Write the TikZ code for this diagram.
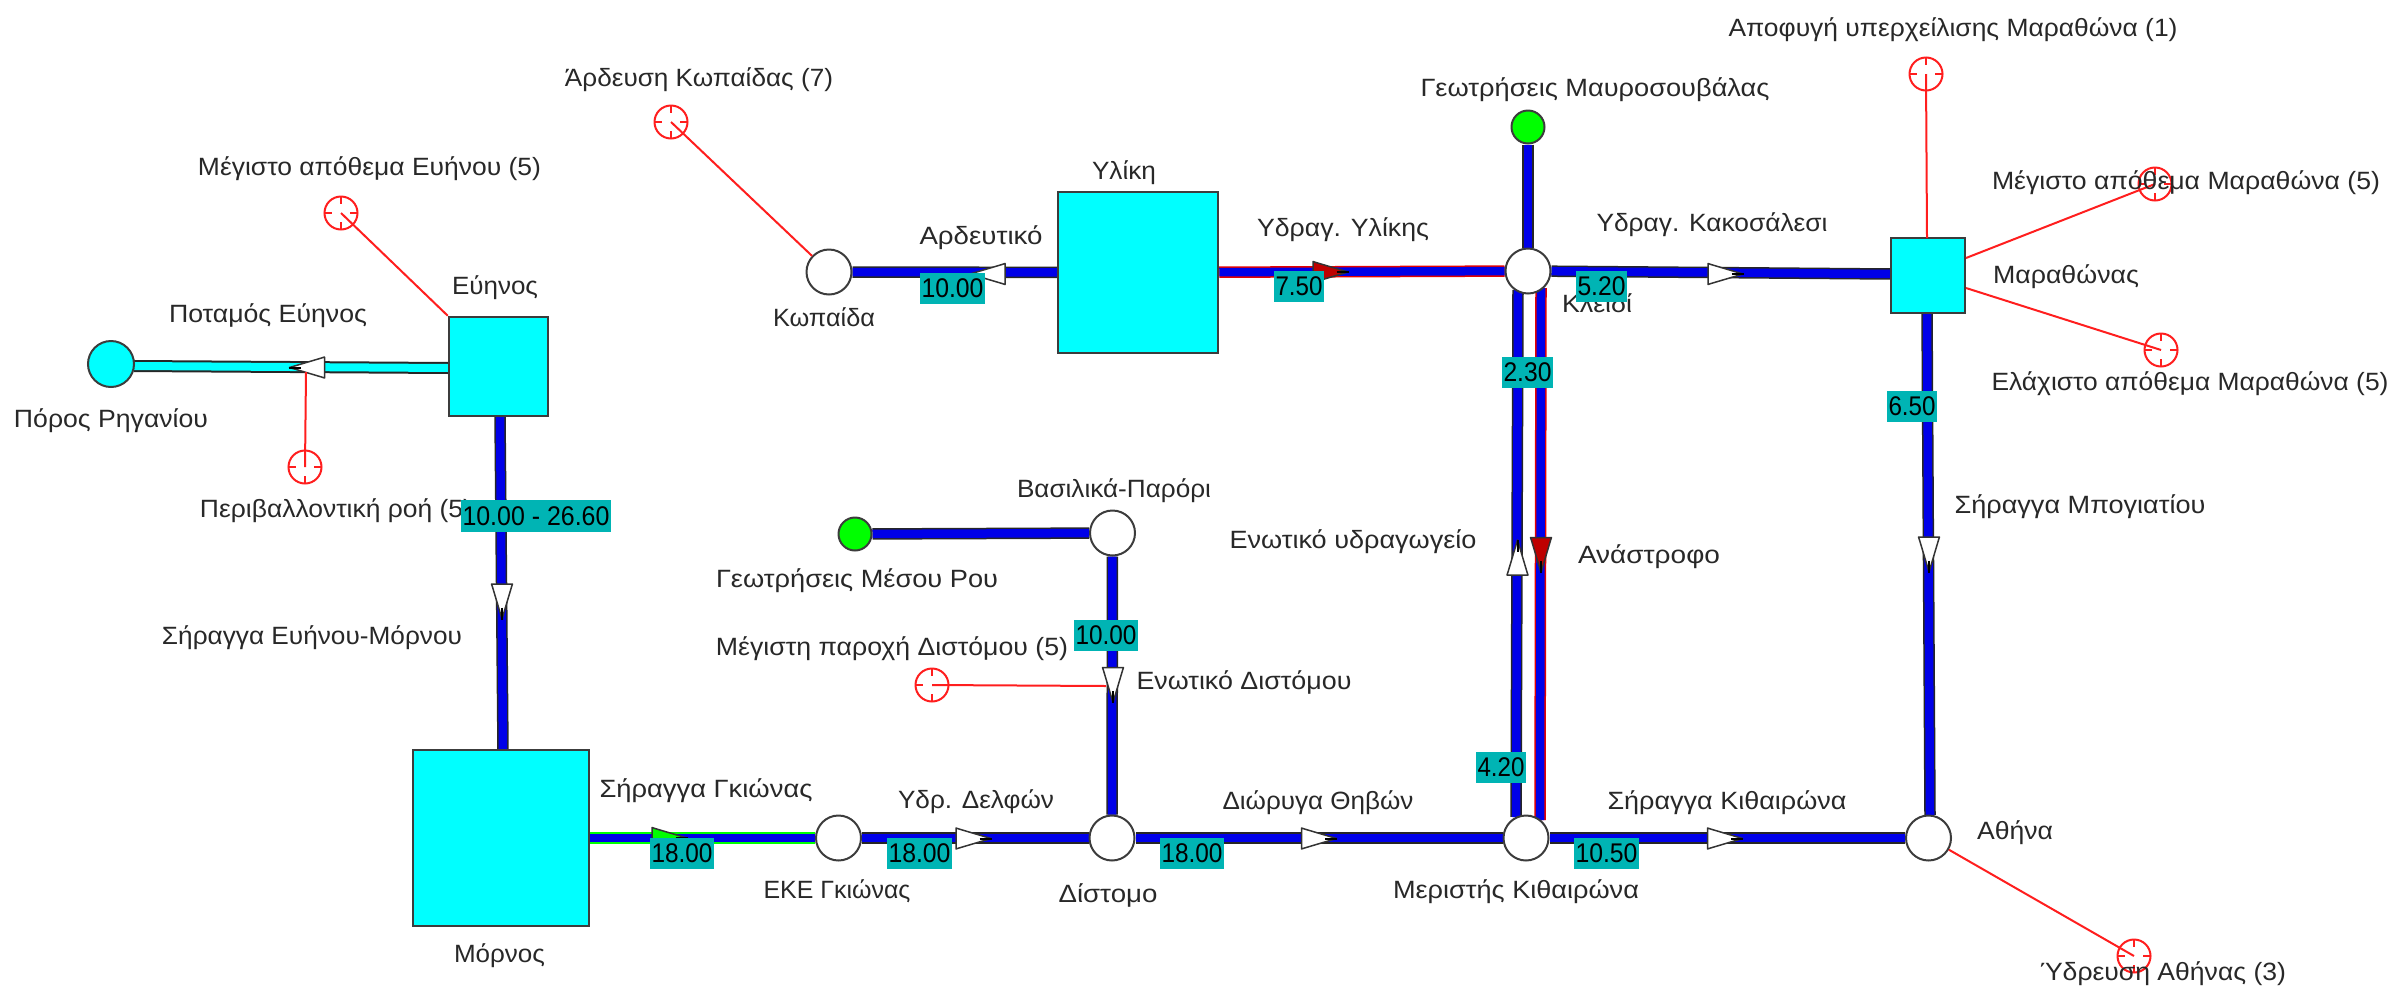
\documentclass[tikz,border=0pt]{standalone}
\usepackage{graphicx}
\usepackage{fontspec}
\setmainfont{Liberation Sans}
\usetikzlibrary{calc}
\definecolor{pipeblue}{RGB}{0,0,232}
\definecolor{boxcyan}{RGB}{0,255,255}
\definecolor{valteal}{RGB}{0,180,180}
\definecolor{inkgray}{RGB}{40,40,40}
\definecolor{nodeline}{RGB}{60,60,60}
\definecolor{limegreen}{RGB}{0,255,0}
\definecolor{gaugered}{RGB}{255,30,30}
\definecolor{arrowred}{RGB}{190,0,0}
\pgfdeclarelayer{bg}
\pgfsetlayers{bg,main}
\tikzset{
  pipe/.style={draw=black!85,double=pipeblue,line width=1.5pt,double distance=8.5pt},
  pipered/.style={pipe,draw=red!90!black},
  pipegreen/.style={pipe,draw=limegreen},
  pipecyan/.style={draw=black!85,double=boxcyan,line width=2pt,double distance=8pt},
  junction/.style={circle,draw=nodeline,fill=white,line width=2pt,minimum size=45pt,inner sep=0pt},
  source/.style={circle,draw=nodeline,fill=limegreen,line width=2pt,minimum size=33pt,inner sep=0pt},
  riversrc/.style={circle,draw=nodeline,fill=boxcyan,line width=2pt,minimum size=46pt,inner sep=0pt},
  reservoir/.style={rectangle,draw=nodeline,fill=boxcyan,line width=2.5pt,inner sep=0pt},
  gauge/.style={circle,draw=gaugered,fill=white,line width=2pt,minimum size=33pt,inner sep=0pt,
    path picture={
      \draw[gaugered,line width=2pt,shorten >=9pt] (path picture bounding box.north) -- (path picture bounding box.center);
      \draw[gaugered,line width=2pt,shorten >=9pt] (path picture bounding box.south) -- (path picture bounding box.center);
      \draw[gaugered,line width=2pt,shorten >=9pt] (path picture bounding box.east) -- (path picture bounding box.center);
      \draw[gaugered,line width=2pt,shorten >=9pt] (path picture bounding box.west) -- (path picture bounding box.center);
    }},
  redlink/.style={draw=gaugered,line width=2pt},
  txt/.style={anchor=base,inner sep=0pt,text=inkgray,font=\fontsize{25}{30}\selectfont},
  val/.style={fill=valteal,inner sep=0pt,text=black,minimum height=31pt,font=\fontsize{27}{30}\selectfont},
  pics/flow/.style={code={
    \draw[fill=#1,draw=black!80,line width=1.5pt,line join=round] (-17.5,-10.5) -- (-14.5,-9.5) -- (17.5,0) -- (-14.5,9.5) -- (-17.5,10.5) -- cycle;
    \draw[black,line width=2pt] (6,0) -- (18,0);
  }}
}
\newcommand{\lbl}[5]{\node[txt] (#1) at (#2,#3) {\resizebox{#4pt}{\height}{#5}};}
\newcommand{\valbox}[6]{\node[val,minimum width=#4pt,minimum height=#5pt] (#1) at (#2,#3) {\resizebox{\dimexpr#4pt-3pt\relax}{\height}{#6}};}
\begin{document}
\begin{tikzpicture}[x=1pt,y=-1pt]
\useasboundingbox (0,0) rectangle (2394,986);
% reservoirs
\node[reservoir,minimum width=99pt,minimum height=99pt] (euinos) at (498.5,366.5) {};
\node[reservoir,minimum width=176pt,minimum height=176pt] (mornos) at (501,838) {};
\node[reservoir,minimum width=160pt,minimum height=161pt] (yliki) at (1138,272.5) {};
\node[reservoir,minimum width=74pt,minimum height=75pt] (marathon) at (1928,275.5) {};
% junctions and sources
\node[riversrc] (poros) at (111,364) {};
\node[junction] (kopaida) at (829,272) {};
\node[junction] (kleidi) at (1528,271) {};
\node[junction] (vasilika) at (1112.5,533) {};
\node[junction] (eke) at (838.5,838) {};
\node[junction] (distomo) at (1112,838) {};
\node[junction] (meristis) at (1526,838) {};
\node[junction] (athina) at (1928.5,838) {};
\node[source] (mavro) at (1528,127) {};
\node[source] (mesou) at (855,534) {};
% gauges
\node[gauge] (gmaxe) at (341,213) {};
\node[gauge] (gard) at (671,122) {};
\node[gauge] (genv) at (305,467) {};
\node[gauge] (gdis) at (932,685) {};
\node[gauge] (gapo) at (1926,74) {};
\node[gauge] (gmaxm) at (2155,184) {};
\node[gauge] (gminm) at (2161,350) {};
\node[gauge] (gath) at (2134,956) {};
% free ends of links
\coordinate (pora) at (134,366);
\coordinate (evna) at (449,368);
\coordinate (tuna) at (500,416);
\coordinate (tunb) at (503,750);
\coordinate (mara) at (1891,274);
\coordinate (klbt) at (1518,290);
\coordinate (mebt) at (1516,817);
\coordinate (klrd) at (1541,288);
\coordinate (merd) at (1540,820);
\coordinate (mart) at (1927,313);
\coordinate (athb) at (1930,815);
\coordinate (envt) at (306,372);
\coordinate (dist) at (1106,686);
\coordinate (aptop) at (1927,238);
\coordinate (mxst) at (1966,258);
\coordinate (mnst) at (1966,288);
% pipes
\begin{pgfonlayer}{bg}
\draw[pipecyan] (pora) -- (evna);
\draw[pipe] (tuna) -- (tunb);
\draw[pipegreen] (mornos) -- (eke);
\draw[pipe] (eke) -- (distomo);
\draw[pipe] (distomo) -- (meristis);
\draw[pipe] (meristis) -- (athina);
\draw[pipe] (mesou) -- (vasilika);
\draw[pipe] (vasilika) -- (distomo);
\draw[pipe] (kopaida) -- (yliki);
\draw[pipered] (yliki) -- (kleidi);
\draw[pipe] (mavro) -- (kleidi);
\draw[pipe] (kleidi) -- (mara);
\draw[pipe] (mart) -- (athb);
\draw[pipe] (mebt) -- (klbt);
\draw[pipered] (klrd) -- (merd);
\end{pgfonlayer}
% flow arrows
\pic[rotate=180] at (307,367.5) {flow=white};
\pic[rotate=-90] at (502,601.5) {flow=white};
\pic at (669.5,838) {flow=limegreen};
\pic at (973.5,838.5) {flow=white};
\pic at (1319,838.5) {flow=white};
\pic at (1725,838.5) {flow=white};
\pic[rotate=180] at (987.5,274) {flow=white};
\pic at (1330.5,272) {flow=arrowred};
\pic at (1725.5,274) {flow=white};
\pic[rotate=90] at (1517.5,557.5) {flow=white};
\pic[rotate=-90] at (1541,555) {flow=arrowred};
\pic[rotate=-90] at (1113,685) {flow=white};
\pic[rotate=-90] at (1929,554.5) {flow=white};
% control links
\draw[redlink] (gmaxe.center) -- (euinos.north west);
\draw[redlink] (gard.center) -- (kopaida);
\draw[redlink] (envt) -- (genv.center);
\draw[redlink] (gdis.center) -- (dist);
\draw[redlink] (gapo.center) -- (aptop);
\draw[redlink] (mxst) -- (gmaxm.center);
\draw[redlink] (mnst) -- (gminm.center);
\draw[redlink] (athina) -- (gath.center);
% texts
\lbl{tmaxe}{369.5}{175}{343}{Μέγιστο απόθεμα Ευήνου (5)}
\lbl{tev}{495}{294}{86}{Εύηνος}
\lbl{tpot}{268}{322}{198}{Ποταμός Εύηνος}
\lbl{tpor}{111}{427}{194}{Πόρος Ρηγανίου}
\lbl{tard}{699}{86}{268}{Άρδευση Κωπαίδας (7)}
\lbl{tenv}{336}{517}{272}{Περιβαλλοντική ροή (5)}
\lbl{ttun}{312}{644}{300}{Σήραγγα Ευήνου-Μόρνου}
\lbl{tmor}{499.5}{962}{91}{Μόρνος}
\lbl{tgk}{706}{797}{213}{Σήραγγα Γκιώνας}
\lbl{tmes}{857}{587}{282}{Γεωτρήσεις Μέσου Ρου}
\lbl{tmaxd}{892}{655}{352}{Μέγιστη παροχή Διστόμου (5)}
\lbl{teke}{837}{898}{147}{ΕΚΕ Γκιώνας}
\lbl{tkop}{824}{326}{102}{Κωπαίδα}
\lbl{tadr}{981}{244}{123}{Αρδευτικό}
\lbl{tyli}{1124}{179}{64}{Υλίκη}
\lbl{tydy}{1343}{236}{172}{Υδραγ. Υλίκης}
\lbl{tmav}{1595}{96}{349}{Γεωτρήσεις Μαυροσουβάλας}
\lbl{tkle}{1597}{312}{70}{Κλειδί}
\lbl{tydk}{1712}{231}{231}{Υδραγ. Κακοσάλεσι}
\lbl{tapo}{1953}{36}{449}{Αποφυγή υπερχείλισης Μαραθώνα (1)}
\lbl{tmar}{2066}{283}{146}{Μαραθώνας}
\lbl{tmaxm}{2186}{189}{388}{Μέγιστο απόθεμα Μαραθώνα (5)}
\lbl{tminm}{2190}{390}{397}{Ελάχιστο απόθεμα Μαραθώνα (5)}
\lbl{tvas}{1114}{497}{194}{Βασιλικά-Παρόρι}
\lbl{tenyd}{1353}{548}{247}{Ενωτικό υδραγωγείο}
\lbl{tana}{1649}{563}{142}{Ανάστροφο}
\lbl{tendi}{1244}{689}{215}{Ενωτικό Διστόμου}
\lbl{tydd}{976}{808}{156}{Υδρ. Δελφών}
\lbl{tdio}{1318}{809}{191}{Διώρυγα Θηβών}
\lbl{tdis}{1108}{902}{99}{Δίστομο}
\lbl{tmer}{1516}{898}{246}{Μεριστής Κιθαιρώνα}
\lbl{tski}{1727}{809}{239}{Σήραγγα Κιθαιρώνα}
\lbl{tath}{2015}{839}{76}{Αθήνα}
\lbl{tmpo}{2080}{513}{251}{Σήραγγα Μπογιατίου}
\lbl{tyda}{2163}{980}{246}{Ύδρευση Αθήνας (3)}
% values
\valbox{va}{536}{516}{150}{32}{10.00 - 26.60}
\valbox{vb}{682}{853.5}{64}{31}{18.00}
\valbox{vc}{919.5}{853.5}{65}{31}{18.00}
\valbox{vd}{1192}{853.5}{64}{31}{18.00}
\valbox{ve}{1606.5}{853.5}{65}{31}{10.50}
\valbox{vf}{1501}{767.5}{50}{31}{4.20}
\valbox{vg}{1527.5}{372.5}{51}{31}{2.30}
\valbox{vh}{1106}{635.5}{64}{31}{10.00}
\valbox{vi}{952.5}{288.5}{65}{31}{10.00}
\valbox{vj}{1299}{286.5}{50}{31}{7.50}
\valbox{vk}{1601.5}{286.5}{51}{31}{5.20}
\valbox{vl}{1912}{406.5}{50}{31}{6.50}
\end{tikzpicture}
\end{document}
